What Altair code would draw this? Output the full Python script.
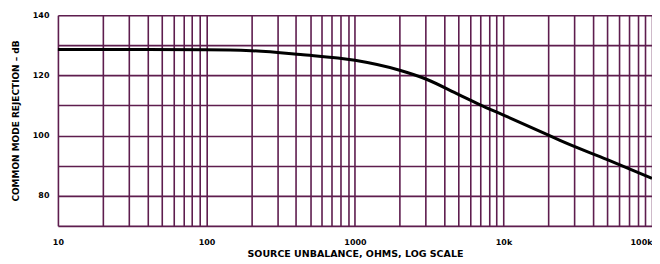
import altair as alt
import pandas as pd

# Curve
freq = [10, 100, 200, 430, 1000, 2000, 3000, 5000, 6900, 10000, 19400, 23800, 50000, 100000]
cmr_db = [128.6, 128.5, 128.2, 126.9, 125.0, 121.7, 118.8, 113.6, 110.3, 106.8, 100.5, 98.5, 92.0, 85.8]

x_grid = [m * 10 ** d for d in range(1, 5) for m in range(1, 10)] + [100000]
x_labels = {10: "10", 100: "100", 1000: "1000", 10000: "10k", 100000: "100k"}
y_grid = [70, 80, 90, 100, 110, 120, 130, 140]
y_labels = [80, 100, 120, 140]

df = pd.DataFrame({"f": freq, "db": cmr_db})

grid_color = "#5e1d4e"
label_expr = " : ".join(
    [f"datum.value == {k} ? '{v}'" for k, v in x_labels.items()]
) + " : ''"
y_label_expr = " || ".join([f"datum.value == {v}" for v in y_labels]) + " ? datum.label : ''"

FONT = "DejaVu Sans"

chart = (
    alt.Chart(df)
    .mark_line(color="black", strokeWidth=3, interpolate="monotone")
    .encode(
        x=alt.X(
            "f:Q",
            scale=alt.Scale(type="log", domain=[10, 100000], nice=False),
            axis=alt.Axis(
                title="SOURCE UNBALANCE, OHMS, LOG SCALE",
                values=x_grid,
                labelExpr=label_expr,
                labelAlign={"expr": "datum.value == 100000 ? 'right' : 'center'"},
                grid=True,
                gridColor=grid_color,
                gridWidth=1.6,
                gridOpacity=1,
                ticks=False,
                domain=False,
                labelPadding=13,
                labelFont=FONT,
                labelFontWeight="bold",
                labelFontSize=8,
                labelColor="black",
                labelFlush=False,
                labelOverlap=False,
                titleFont=FONT,
                titleFontWeight="bold",
                titleFontSize=9.5,
                titlePadding=2,
                titleColor="black",
            ),
        ),
        y=alt.Y(
            "db:Q",
            scale=alt.Scale(domain=[70, 140], nice=False),
            axis=alt.Axis(
                title="COMMON MODE REJECTION – dB",
                values=y_grid,
                labelExpr=y_label_expr,
                grid=True,
                gridColor=grid_color,
                gridWidth=1.6,
                gridOpacity=1,
                ticks=False,
                domain=False,
                labelPadding=9,
                labelFont=FONT,
                labelFontWeight="bold",
                labelFontSize=8,
                labelColor="black",
                titleFont=FONT,
                titleFontWeight="bold",
                titleFontSize=9,
                titlePadding=12,
                titleColor="black",
            ),
        ),
    )
    .properties(
        width=595,
        height=211,
        padding={"left": 50, "top": 7, "right": 0, "bottom": 38},
        autosize=alt.AutoSizeParams(type="none"),
    )
    .configure_view(stroke="black", strokeWidth=2.5)
    .configure(background="white")
)

chart.save("out.html", embed_options={"renderer": "svg", "actions": False})
